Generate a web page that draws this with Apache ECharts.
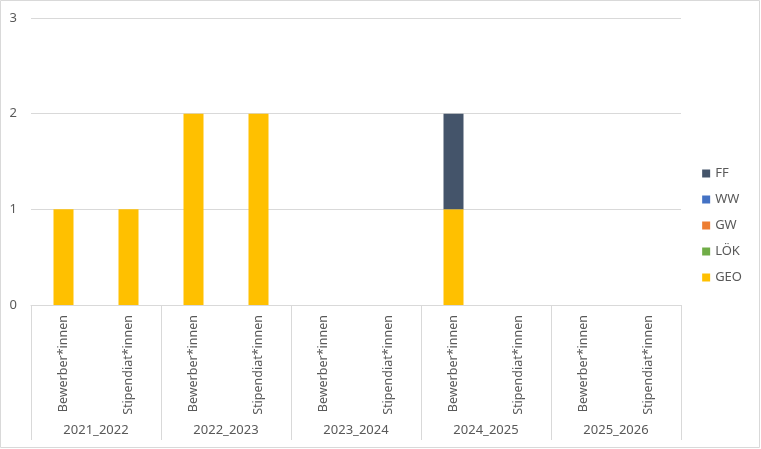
<!DOCTYPE html>
<html><head><meta charset="utf-8">
<script src="https://cdn.jsdelivr.net/npm/echarts@6/dist/echarts.min.js"></script>
<style>html,body{margin:0;padding:0;background:#fff}#c{width:761px;height:449px}</style>
</head><body><div id="c"></div>
<script>
const categories = ['Bewerber*innen','Stipendiat*innen','Bewerber*innen','Stipendiat*innen','Bewerber*innen','Stipendiat*innen','Bewerber*innen','Stipendiat*innen','Bewerber*innen','Stipendiat*innen'];
const groups = ['2021_2022','2022_2023','2023_2024','2024_2025','2025_2026'];
const GEO = [1,1,2,2,0,0,1,0,0,0];
const LOEK = [0,0,0,0,0,0,0,0,0,0];
const GW = [0,0,0,0,0,0,0,0,0,0];
const WW = [0,0,0,0,0,0,0,0,0,0];
const FF = [0,0,0,0,0,0,1,0,0,0];
const yTicks = [0,1,2,3];

const font = 'Noto Sans';
const txt = '#595959';
const grid = '#d9d9d9';
const mk = (name, data, color) => ({name, type:'bar', stack:'s', data, barWidth:20, xAxisIndex:0, itemStyle:{color}});
const chart = echarts.init(document.getElementById('c'));
chart.setOption({
  animation:false,
  textStyle:{fontFamily:font},
  grid:{left:31, right:80, top:18, bottom:144, containLabel:false},
  legend:{orient:'vertical', right:14, top:162, itemWidth:8, itemHeight:8, itemGap:13, icon:'rect', itemTextGap:4,
    textStyle:{color:txt, fontSize:13, fontFamily:font},
    data:['FF','WW','GW','LÖK','GEO']},
  xAxis:[
    {type:'category', data:categories, position:'bottom', offset:0,
     axisLine:{show:true, lineStyle:{color:grid}}, axisTick:{show:false},
     axisLabel:{rotate:90, margin:10, color:txt, fontSize:12.5, interval:0, fontFamily:font}},
    {type:'category', data:groups, position:'bottom', offset:0,
     axisLine:{show:false}, axisTick:{show:true, length:135, lineStyle:{color:grid}},
     axisLabel:{margin:119, color:txt, fontSize:13, interval:0, fontFamily:font}}
  ],
  yAxis:{type:'value', min:yTicks[0], max:yTicks[yTicks.length-1], interval:1,
    axisLine:{show:false}, axisTick:{show:false},
    axisLabel:{color:txt, fontSize:13, margin:14, fontFamily:font},
    splitLine:{lineStyle:{color:grid}}},
  graphic:[{type:'rect', shape:{x:0.5,y:0.5,width:759,height:447}, style:{fill:'none', stroke:grid, lineWidth:1}}],
  series:[
    mk('GEO', GEO, '#FFC000'),
    mk('LÖK', LOEK, '#70AD47'),
    mk('GW', GW, '#ED7D31'),
    mk('WW', WW, '#4472C4'),
    mk('FF', FF, '#44546A')
  ]
});
</script></body></html>
